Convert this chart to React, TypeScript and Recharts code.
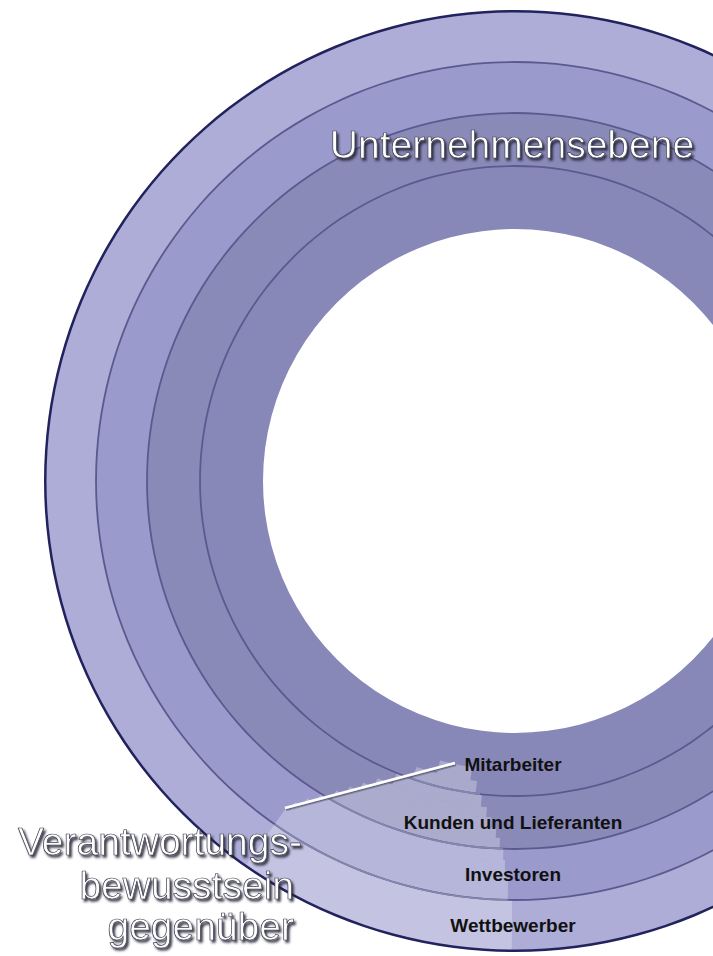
import { PieChart, Pie, Cell } from "recharts"

// rings from outside to inside
const RING_NAMES = ["Wettbewerber", "Investoren", "Kunden und Lieferanten", "Mitarbeiter"]
const RING_SHARE = [100, 100, 100, 100]
// lighter highlighted wedge, read band by band (degrees, recharts angle convention)
const HIGHLIGHT_RING = [0, 1, 1, 1, 1, 2, 2, 2, 2, 2, 3, 3]
const HIGHLIGHT_START = [235, 235, 235.6, 236.8, 238.2, 240, 241.6, 243.3, 245.2, 248, 251, 255]
const HIGHLIGHT_END = [269.6, 269, 268.8, 268.5, 268.2, 267.6, 266.9, 266, 265.1, 264, 262.8, 261.5]
// lighter part of the separator circles inside the wedge
const SEP_HL_START = [235, 238.8, 249.4]
const SEP_HL_END = [269, 268.1, 263.6]

const TITLE = "Unternehmensebene"
const SIDE_LINES = ["Verantwortungs-", "bewusstsein", "gegenüber"]

// layout (pixels)
const W = 713
const H = 956
const CX = 515
const CY = 481
const RING_RADII: [number, number][] = [
  [419, 470],
  [368, 419],
  [315, 368],
  [252, 315],
]
const BAND_RADII: [number, number][] = [
  [419, 470],
  [400, 419],
  [390, 400],
  [380, 390],
  [368, 380],
  [358, 368],
  [348, 358],
  [338, 348],
  [328, 338],
  [315, 328],
  [303, 315],
  [290, 303],
]
const RING_COLORS = ["#adadd7", "#9a9acd", "#8a8ab9", "#8888b8"]
const RING_HL_COLORS = ["#c4c4e2", "#b6b6db", "#ababcd", "#a9a9cc"]
const SEPARATORS = [419, 368, 315]
const SEP_COLOR = "#5a5a8e"
const SEP_HL_COLOR = "#8686ad"

const FONT = "'Liberation Sans', Arial, sans-serif"

function ringLabel(name: string) {
  return (props: any) => (
    <text
      x={props.cx - 2}
      y={props.cy + (props.innerRadius + props.outerRadius) / 2}
      textAnchor="middle"
      dominantBaseline="central"
      fill="#111"
      fontFamily={FONT}
      fontWeight="bold"
      fontSize={19}
    >
      {name}
    </text>
  )
}

function ShadowText({ x, y, anchor, children }: any) {
  return (
    <text
      x={x}
      y={y}
      textAnchor={anchor}
      fontFamily={FONT}
      fontSize={39}
      fill="#ffffff"
      stroke="#3c3c4c"
      strokeWidth={0.7}
      filter="url(#textShadow)"
    >
      {children}
    </text>
  )
}

function ring(key: string, inner: number, outer: number, start: number, end: number, fill: string) {
  return (
    <Pie
      key={key}
      data={[{ value: end - start }]}
      dataKey="value"
      cx={CX}
      cy={CY}
      innerRadius={inner}
      outerRadius={outer}
      startAngle={start}
      endAngle={end}
      stroke="none"
      isAnimationActive={false}
    >
      <Cell fill={fill} stroke="none" />
    </Pie>
  )
}

export default function App() {
  return (
    <div style={{ position: "absolute", left: 0, top: 0, width: W, height: H, background: "#fff" }}>
      <PieChart width={W} height={H} margin={{ top: 0, right: 0, bottom: 0, left: 0 }}>
        {RING_NAMES.map((_, i) =>
          ring(`ring-${i}`, RING_RADII[i][0], RING_RADII[i][1], 90, 450, RING_COLORS[i])
        )}
        {HIGHLIGHT_START.map((start, i) => {
          const r = HIGHLIGHT_RING[i]
          const inner = BAND_RADII[i][0] === RING_RADII[r][0] ? BAND_RADII[i][0] : BAND_RADII[i][0] - 0.6
          return ring(`hl-${i}`, inner, BAND_RADII[i][1], start, HIGHLIGHT_END[i], RING_HL_COLORS[r])
        })}
        {SEPARATORS.map((r, i) => ring(`sep-${i}`, r - 0.9, r + 0.9, 90, 450, SEP_COLOR))}
        {SEPARATORS.map((r, i) =>
          ring(`sep-hl-${i}`, r - 0.9, r + 0.9, SEP_HL_START[i], SEP_HL_END[i], SEP_HL_COLOR)
        )}
        {ring("edge", 468.5, 471, 90, 450, "#22225e")}
        {RING_NAMES.map((name, i) => (
          <Pie
            key={`label-${i}`}
            data={[{ name, value: RING_SHARE[i] }]}
            dataKey="value"
            cx={CX}
            cy={CY}
            innerRadius={RING_RADII[i][0]}
            outerRadius={RING_RADII[i][1]}
            startAngle={90}
            endAngle={450}
            stroke="none"
            isAnimationActive={false}
            labelLine={false}
            label={ringLabel(name)}
          >
            <Cell fill="transparent" stroke="none" />
          </Pie>
        ))}
      </PieChart>
      <svg width={W} height={H} style={{ position: "absolute", left: 0, top: 0, pointerEvents: "none" }}>
        <defs>
          <filter id="textShadow" x="-10%" y="-30%" width="120%" height="160%">
            <feDropShadow dx={2} dy={2.5} stdDeviation={0.8} floodColor="#222233" floodOpacity={0.85} />
          </filter>
          <filter id="lineShadow" x="-10%" y="-50%" width="120%" height="200%">
            <feDropShadow dx={1} dy={1.5} stdDeviation={0.6} floodColor="#55556a" floodOpacity={0.8} />
          </filter>
        </defs>
        <line
          x1={285}
          y1={808}
          x2={455}
          y2={763}
          stroke="#ffffff"
          strokeWidth={2.8}
          filter="url(#lineShadow)"
        />
        <ShadowText x={512} y={158} anchor="middle">
          {TITLE}
        </ShadowText>
        <ShadowText x={302} y={855} anchor="end">
          {SIDE_LINES[0]}
        </ShadowText>
        <ShadowText x={294} y={899} anchor="end">
          {SIDE_LINES[1]}
        </ShadowText>
        <ShadowText x={294} y={940} anchor="end">
          {SIDE_LINES[2]}
        </ShadowText>
      </svg>
    </div>
  )
}
